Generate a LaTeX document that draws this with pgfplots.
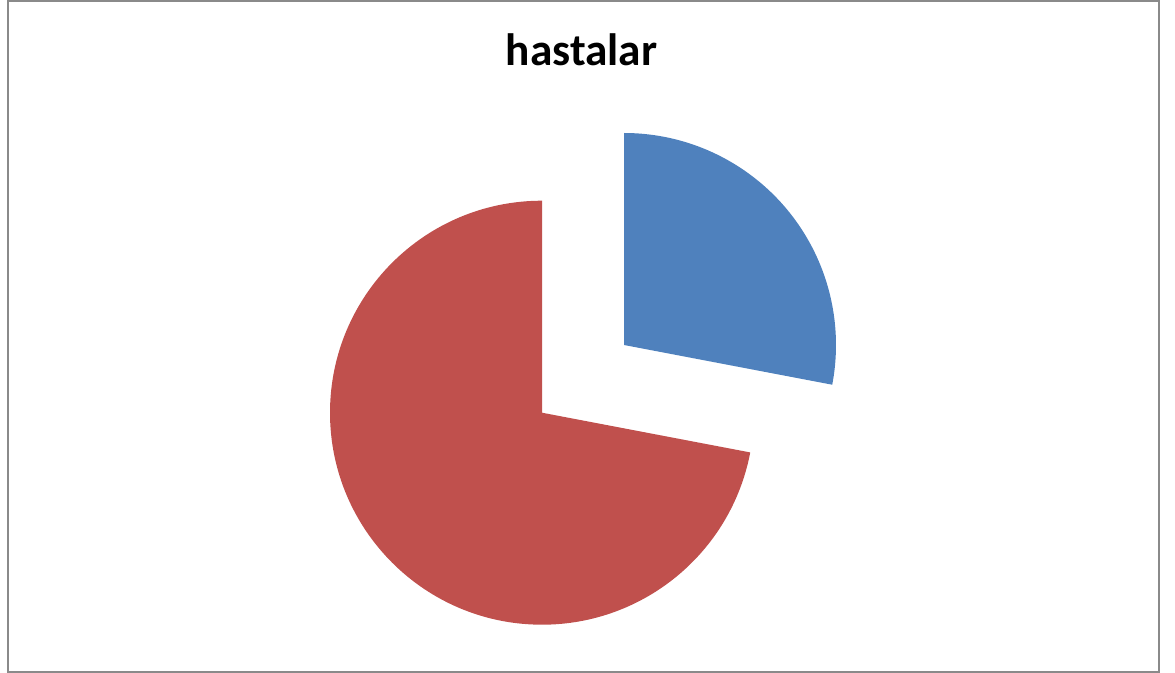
\documentclass[border=0pt]{standalone}
\usepackage{pgfplots}
\pgfplotsset{compat=1.18}
\usepackage{fontspec}
\setmainfont{Carlito}
\definecolor{sliceblue}{HTML}{4F81BD}
\definecolor{slicered}{HTML}{C0504D}
\definecolor{framegray}{HTML}{8A8A8A}
% values (percent)
\def\valA{28}
\def\valB{72}
\begin{document}
\begin{tikzpicture}
\begin{axis}[
  x=0.75pt, y=0.75pt,
  xmin=0, xmax=1175, ymin=0, ymax=673,
  y dir=reverse,
  hide axis, clip=false,
  scale only axis,
]
\path (axis cs:0,0) rectangle (axis cs:1175,673);
\draw[framegray, line width=1.5pt] (axis cs:7.5,1.5) rectangle (axis cs:1159,672);
\node[anchor=base, font=\fontsize{34}{40}\selectfont\bfseries] at (axis cs:581.5,65.7) {hastalar};
\pgfmathsetmacro{\angA}{3.6*\valA}
\pgfmathsetmacro{\angB}{3.6*\valB}
% blue slice (exploded)
\fill[sliceblue] (axis cs:624,345) -- (axis cs:624,133) arc[start angle=90, end angle={90-\angA}, radius=159pt] -- cycle;
% red slice
\fill[slicered] (axis cs:542,412.7) -- (axis cs:542,200.7) arc[start angle=90, end angle={90+\angB}, radius=159pt] -- cycle;
\end{axis}
\end{tikzpicture}
\end{document}
